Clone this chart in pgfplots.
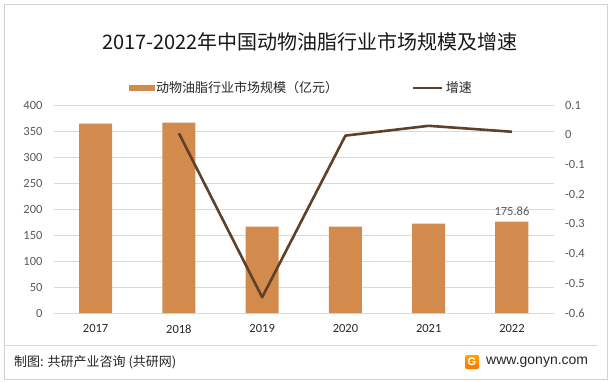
\documentclass[border=0pt]{standalone}
\usepackage{pgfplots}
\pgfplotsset{compat=1.18}
\usepackage{fontspec}
\setmainfont{Carlito}
\newfontfamily\cjk{Noto Sans CJK SC}
\newfontfamily\arial{Liberation Sans}
\definecolor{barc}{RGB}{211,139,77}
\definecolor{linec}{RGB}{94,65,40}
\definecolor{gridc}{RGB}{217,217,217}
\definecolor{tickc}{RGB}{89,89,89}
\definecolor{framec}{RGB}{210,210,210}
\begin{document}
\begin{tikzpicture}[x=1pt,y=1pt]
\fill[white] (0,0) rectangle (613,381);
\draw[framec, line width=0.8pt] (4,2) rectangle (607,377);
\node[font=\cjk\fontsize{20}{24}\selectfont, text=black!90] at (310,339) {2017-2022年中国动物油脂行业市场规模及增速};
\draw[gridc, line width=0.8pt] (5,36) -- (598,36);
\node[anchor=west, font=\cjk\fontsize{13}{15}\selectfont, text=black!85, inner sep=0pt] at (14,19) {制图: 共研产业咨询 (共研网)};
\shade[top color=orange!70!yellow, bottom color=orange!90!red, rounded corners=1.5pt] (465,12) rectangle (479,26);
\node[font=\arial\bfseries\fontsize{11}{12}\selectfont, text=white, inner sep=0pt] at (472,19) {G};
\node[anchor=west, font=\arial\fontsize{14}{16}\selectfont, text=black!85, inner sep=0pt] at (486,19) {www.gonyn.com};

\begin{axis}[at={(54pt,68pt)}, anchor=south west, scale only axis,
  width=499.6pt, height=208pt,
  xmin=-0.5, xmax=5.5, ymin=0, ymax=400,
  ytick={0,50,100,150,200,250,300,350,400},
  xtick={0,1,2,3,4,5}, xticklabels={2017,2018,2019,2020,2021,2022},
  ymajorgrids, grid style={gridc, line width=0.8pt},
  axis line style={draw=none}, major tick length=0pt,
  /pgf/number format/assume math mode=true,
  tick label style={font=\fontsize{12.5}{14}\selectfont},
  yticklabel style={text=tickc, anchor=east, xshift=-8pt},
  xticklabel style={text=black!85, yshift=-8pt},
  ybar, bar width=33pt, bar shift=0pt,
  clip=false]
\addplot[fill=barc, draw=none] coordinates {(0,364)(1,366)(2,166)(3,166)(4,172)(5,175.86)};
\addplot[fill=barc, draw=none, nodes near coords,
  nodes near coords style={font=\fontsize{12.5}{14}\selectfont, text=tickc, yshift=2pt,
  /pgf/number format/.cd, fixed, precision=2, assume math mode=true}]
  coordinates {(5,175.86)};
\end{axis}

\begin{axis}[at={(54pt,68pt)}, anchor=south west, scale only axis,
  width=499.6pt, height=208pt,
  xmin=-0.5, xmax=5.5, ymin=-0.6, ymax=0.1,
  ytick={-0.6,-0.5,-0.4,-0.3,-0.2,-0.1,0,0.1},
  hide x axis, axis y line*=right, axis line style={draw=none}, major tick length=0pt,
  /pgf/number format/assume math mode=true,
  tick label style={font=\fontsize{12.5}{14}\selectfont},
  yticklabel style={text=tickc, anchor=west, xshift=8pt},
  legend columns=2,
  legend style={at={(0.495,1.082)}, anchor=center, draw=none, fill=none,
    font=\cjk\fontsize{13}{15}\selectfont, text=black!85,
    /tikz/every even column/.append style={column sep=72pt}},
  clip=false]
\addlegendimage{legend image code/.code={\fill[barc] (0pt,-2.5pt) rectangle (25pt,2.5pt);}}
\addlegendentry{动物油脂行业市场规模（亿元）}
\addplot[linec, line width=2.6pt, mark=none, line join=round,
  legend image code/.code={\draw[linec,line width=2.6pt] (0pt,0pt) -- (29pt,0pt);}]
  coordinates {(1,0.005)(2,-0.547)(3,-0.003)(4,0.03)(5,0.01)};
\addlegendentry{增速}
\end{axis}
\end{tikzpicture}
\end{document}
